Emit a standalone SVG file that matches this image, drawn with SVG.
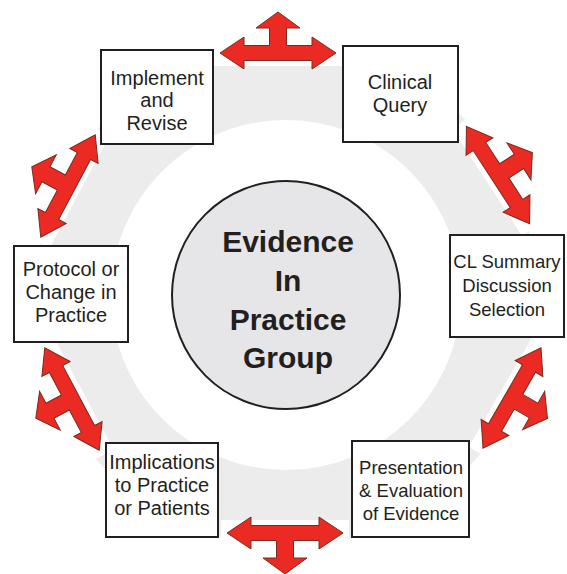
<svg xmlns="http://www.w3.org/2000/svg" width="567" height="574" viewBox="0 0 567 574">
  <style>
    .box { fill: #ffffff; stroke: #231f20; stroke-width: 2; }
    .lbl { font-family: "Liberation Sans", Arial, sans-serif; font-size: 20px; fill: #231f20; text-anchor: middle; }
    .lbl.sm { font-size: 18.5px; }
    .hub { fill: #e6e6e8; stroke: #231f20; stroke-width: 2; }
    .hubtxt { font-family: "Liberation Sans", Arial, sans-serif; font-size: 30px; font-weight: bold; fill: #231f20; text-anchor: middle; }
    .tri { fill: #ec2a24; stroke: #7a2a1c; stroke-width: 1; stroke-linejoin: miter; }
    .pad { fill: #ffffff; }
  </style>
  <defs>
    <!-- three-headed "T" arrow: bar along x, third head pointing to -y -->
    <g id="tri-arrow">
      <rect class="pad" x="-64" y="-45" width="128" height="58"/>
      <path class="tri" d="M-58,0 L-34,-16 L-34,-7.5 L-8.5,-7.5 L-8.5,-25 L-22,-25 L0,-41 L22,-25 L8.5,-25 L8.5,-7.5 L34,-7.5 L34,-16 L58,0 L34,16 L34,7.5 L-34,7.5 L-34,16 Z"/>
    </g>
  </defs>

  <rect width="567" height="574" fill="#ffffff"/>

  <!-- pale ring behind the cycle -->
  <circle cx="286" cy="295" r="213" fill="none" stroke="#ececec" stroke-width="76"/>

  <!-- connectors: arrows between the stages -->
  <g id="connectors">
    <use href="#tri-arrow" transform="translate(278,53)"/>
    <use href="#tri-arrow" transform="translate(498,175) rotate(57)"/>
    <use href="#tri-arrow" transform="translate(512,398) rotate(120)"/>
    <use href="#tri-arrow" transform="translate(285,533) rotate(180)"/>
    <use href="#tri-arrow" transform="translate(72,399) rotate(-118)"/>
    <use href="#tri-arrow" transform="translate(68,186) rotate(-62)"/>
  </g>

  <g id="hub">
    <circle class="hub" cx="286" cy="295" r="114"/>
    <text class="hubtxt" x="288" y="252">Evidence</text>
    <text class="hubtxt" x="288" y="291">In</text>
    <text class="hubtxt" x="288" y="330">Practice</text>
    <text class="hubtxt" x="288" y="368">Group</text>
  </g>

  <g id="implement">
    <rect class="box" x="101" y="50" width="112" height="94"/>
    <text class="lbl" x="157" y="85">Implement</text>
    <text class="lbl" x="157" y="107">and</text>
    <text class="lbl" x="157" y="130">Revise</text>
  </g>

  <g id="clinical-query">
    <rect class="box" x="343" y="46" width="115" height="96"/>
    <text class="lbl" x="400" y="89">Clinical</text>
    <text class="lbl" x="400" y="112">Query</text>
  </g>

  <g id="cl-summary">
    <rect class="box" x="450" y="235" width="114" height="102"/>
    <text class="lbl sm" x="507" y="268">CL Summary</text>
    <text class="lbl sm" x="507" y="292">Discussion</text>
    <text class="lbl sm" x="507" y="316">Selection</text>
  </g>

  <g id="presentation">
    <rect class="box" x="352" y="441" width="117" height="96"/>
    <text class="lbl sm" x="411" y="474">Presentation</text>
    <text class="lbl sm" x="411" y="497">&amp; Evaluation</text>
    <text class="lbl sm" x="411" y="520">of Evidence</text>
  </g>

  <g id="implications">
    <rect class="box" x="106" y="443" width="112" height="94"/>
    <text class="lbl" x="162" y="469">Implications</text>
    <text class="lbl" x="162" y="492">to Practice</text>
    <text class="lbl" x="162" y="515">or Patients</text>
  </g>

  <g id="protocol">
    <rect class="box" x="14" y="246" width="114" height="96"/>
    <text class="lbl" x="71" y="276">Protocol or</text>
    <text class="lbl" x="71" y="299">Change in</text>
    <text class="lbl" x="71" y="322">Practice</text>
  </g>
</svg>
